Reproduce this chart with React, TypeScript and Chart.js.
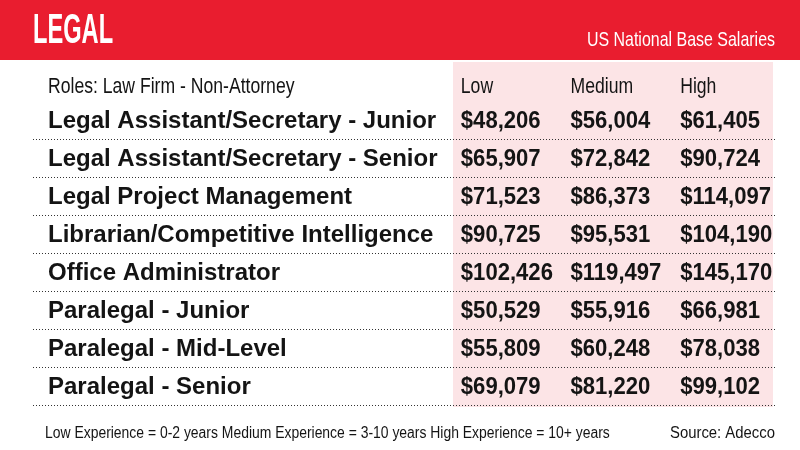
import React, { useEffect, useRef } from "react";
import { Chart, registerables } from "chart.js";

Chart.register(...registerables);

const title = "LEGAL";
const subtitle = "US National Base Salaries";
const roleHeader = "Roles: Law Firm - Non-Attorney";
const columns = ["Low", "Medium", "High"];
const roles = [
  "Legal Assistant/Secretary - Junior",
  "Legal Assistant/Secretary - Senior",
  "Legal Project Management",
  "Librarian/Competitive Intelligence",
  "Office Administrator",
  "Paralegal - Junior",
  "Paralegal - Mid-Level",
  "Paralegal - Senior",
];
const lowValues = [48206, 65907, 71523, 90725, 102426, 50529, 55809, 69079];
const mediumValues = [56004, 72842, 86373, 95531, 119497, 55916, 60248, 81220];
const highValues = [61405, 90724, 114097, 104190, 145170, 66981, 78038, 99102];
const footnote = "Low Experience = 0-2 years Medium Experience = 3-10 years High Experience = 10+ years";
const source = "Source: Adecco";

const RED = "#E91D2F";
const PINK = "#FCE4E6";
const INK = "#141414";
const FONT = "'Liberation Sans', Arial, sans-serif";

function txt(
  ctx: CanvasRenderingContext2D,
  s: string,
  x: number,
  y: number,
  font: string,
  color: string,
  sx: number,
  align: CanvasTextAlign = "left"
) {
  ctx.save();
  ctx.font = font;
  ctx.fillStyle = color;
  ctx.textAlign = align;
  ctx.textBaseline = "alphabetic";
  ctx.translate(x, y);
  ctx.scale(sx, 1);
  ctx.fillText(s, 0, 0);
  ctx.restore();
}

const tablePlugin = {
  id: "tablePlugin",
  beforeDatasetsDraw(chart: any) {
    const { ctx, chartArea, width, height } = chart;
    const y = chart.scales.y;
    ctx.save();
    ctx.fillStyle = "#ffffff";
    ctx.fillRect(0, 0, width, height);
    ctx.fillStyle = RED;
    ctx.fillRect(0, 0, width, 60);
    ctx.fillStyle = PINK;
    ctx.fillRect(chartArea.left, 62, chartArea.right - 9 - chartArea.left, chartArea.bottom + 2 - 62);
    ctx.strokeStyle = "#333";
    ctx.lineWidth = 1;
    ctx.setLineDash([1, 2]);
    const band = (chartArea.bottom - chartArea.top) / roles.length;
    roles.forEach((_, i) => {
      const yy = Math.round(y.getPixelForValue(i) + band / 2) + 0.5;
      ctx.beginPath();
      ctx.moveTo(33, yy);
      ctx.lineTo(chartArea.right - 7, yy);
      ctx.stroke();
    });
    ctx.restore();
  },
  afterDatasetsDraw(chart: any) {
    const { ctx, chartArea } = chart;
    const x = chart.scales.x;
    const y = chart.scales.y;
    txt(ctx, title, 33, 43, `bold 43px ${FONT}`, "#fff", 0.55);
    txt(ctx, subtitle, 775, 46, `21px ${FONT}`, "#fff", 0.76, "right");
    const headY = chartArea.top - 8;
    txt(ctx, roleHeader, 48, headY, `22px ${FONT}`, INK, 0.8);
    columns.forEach((c, i) => {
      txt(ctx, c, x.getPixelForValue(i) - 47, headY, `22px ${FONT}`, INK, 0.8);
    });
    roles.forEach((r, i) => {
      txt(ctx, r, 48, y.getPixelForValue(i) + 8, `bold 24px ${FONT}`, INK, 1.0);
    });
    chart.data.datasets.forEach((ds: any, di: number) => {
      const meta = chart.getDatasetMeta(di);
      meta.data.forEach((pt: any, pi: number) => {
        const v = ds.data[pi].v;
        txt(ctx, "$" + v.toLocaleString("en-US"), pt.x - 47, pt.y + 8, `bold 24px ${FONT}`, INK, 0.92);
      });
    });
    txt(ctx, footnote, 45, 438, `16px ${FONT}`, INK, 0.87);
    txt(ctx, source, 775, 438, `16px ${FONT}`, INK, 0.93, "right");
  },
};

export default function App() {
  const ref = useRef<HTMLCanvasElement | null>(null);
  useEffect(() => {
    if (!ref.current) return;
    const series = [lowValues, mediumValues, highValues];
    const chart = new Chart(ref.current, {
      type: "scatter",
      data: {
        datasets: series.map((vals, ci) => ({
          label: columns[ci],
          data: roles.map((r, ri) => ({ x: columns[ci], y: r, v: vals[ri] })) as any,
          pointRadius: 0,
          pointHoverRadius: 0,
        })),
      },
      options: {
        animation: false,
        responsive: false,
        devicePixelRatio: 1,
        events: [],
        layout: { padding: { left: 453, right: 18, top: 101, bottom: 45 } },
        plugins: { legend: { display: false }, tooltip: { enabled: false } },
        scales: {
          x: { type: "category", labels: columns, offset: true, display: false },
          y: { type: "category", labels: roles, offset: true, display: false },
        },
      },
      plugins: [tablePlugin],
    });
    return () => chart.destroy();
  }, []);
  return (
    <div style={{ position: "fixed", left: 0, top: 0, width: 800, height: 450, background: "#fff" }}>
      <canvas ref={ref} width={800} height={450} style={{ width: 800, height: 450 }} />
    </div>
  );
}
